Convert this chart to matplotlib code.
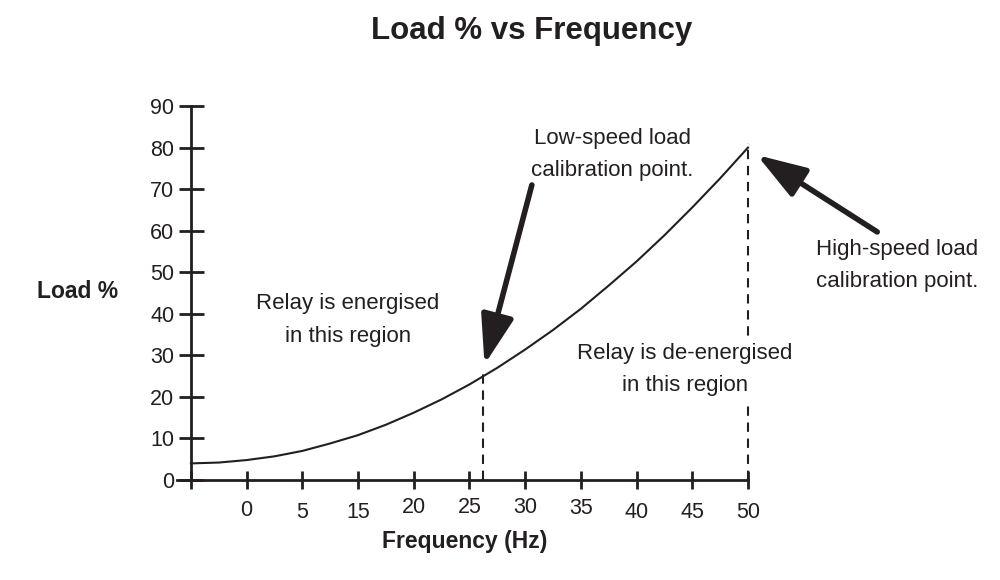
import matplotlib
matplotlib.use("Agg")
import matplotlib.pyplot as plt
from matplotlib.transforms import ScaledTranslation

plt.rcParams["font.family"] = ["Liberation Sans", "DejaVu Sans"]
INK = "#231f20"

# tick slots along the frequency axis and their printed labels
freq_slots = [0, 1, 2, 3, 4, 5, 6, 7, 8, 9, 10]
freq_labels = ["", "0", "5", "15", "20", "25", "30", "35", "40", "45", "50"]
load_ticks = [0, 10, 20, 30, 40, 50, 60, 70, 80, 90]

# load curve, sampled along the axis
curve_x = [0, 0.5, 1, 1.5, 2, 2.5, 3, 3.5, 4, 4.5, 5, 5.5, 6, 6.5, 7, 7.5, 8, 8.5, 9, 9.5, 10]
curve_load = [4.0, 4.2, 4.8, 5.7, 7.0, 8.8, 10.8, 13.3, 16.2, 19.4, 23.0, 27.0, 31.4,
              36.1, 41.2, 46.8, 52.6, 58.9, 65.6, 72.6, 80.0]

# calibration points: slot position and height of the dashed marker
low_cal_x, low_cal_top = 5.24, 27
high_cal_x, high_cal_top = 10.0, 81

fig = plt.figure(figsize=(10, 5.8), dpi=100)
ax = fig.add_axes([0.177, 0.1724, 0.571, 0.6448])

ax.plot(curve_x, curve_load, color=INK, lw=1.5, clip_on=False, zorder=3)
ax.plot([low_cal_x, low_cal_x], [0, low_cal_top], color=INK, lw=1.5,
        ls=(0, (4.5, 3.2)), clip_on=False)
ax.plot([high_cal_x, high_cal_x], [0, high_cal_top], color=INK, lw=1.5,
        ls=(0, (4.5, 3.2)), clip_on=False)

ax.set_xlim(-0.25, 10)
ax.set_ylim(0, 90)
ax.set_xticks(freq_slots)
ax.set_xticklabels(freq_labels)
ax.set_yticks(load_ticks)

for s in ["top", "right"]:
    ax.spines[s].set_visible(False)
ax.spines["left"].set_position(("data", 0))
for s in ["left", "bottom"]:
    ax.spines[s].set_linewidth(2)
    ax.spines[s].set_color(INK)
ax.tick_params(axis="both", direction="inout", width=2, color=INK,
               labelcolor=INK, labelsize=15.5)
ax.tick_params(axis="y", length=18, pad=3)
ax.tick_params(axis="x", length=13, pad=8)
ax.patch.set_visible(False)

# the hand-set frequency labels sit slightly uneven (points, + is up)
label_nudge = [0, 0, -1, -1, 2, 2, 2, 1.5, -1, -1, -1]
for lab, dy in zip(ax.get_xticklabels(), label_nudge):
    lab.set_transform(lab.get_transform() + ScaledTranslation(0, dy / 72, fig.dpi_scale_trans))

# arrows pointing at the calibration points
arrow = dict(arrowstyle="-|>,head_length=1.5,head_width=0.5", lw=4,
             color=INK, mutation_scale=20, shrinkA=0, shrinkB=0)
ax.annotate("", xy=(5.27, 27.8), xytext=(6.12, 71.0), arrowprops=arrow,
            annotation_clip=False)
ax.annotate("", xy=(10.16, 78.2), xytext=(12.32, 59.7), arrowprops=arrow,
            annotation_clip=False)

txt = dict(ha="center", va="center", fontsize=16, color=INK,
           linespacing=1.7, clip_on=False, zorder=5)
ax.text(7.56, 78.4, "Low-speed load\ncalibration point.", **txt)
ax.text(2.82, 38.5, "Relay is energised\nin this region", **txt)
ax.text(8.87, 26.5, "Relay is de-energised\nin this region",
        bbox=dict(facecolor="white", edgecolor="none", pad=4), **txt)
ax.text(12.68, 51.7, "High-speed load\ncalibration point.", **txt)

fig.text(0.532, 0.947, "Load % vs Frequency", ha="center", va="center",
         fontsize=22.5, fontweight="bold", color=INK)
fig.text(0.078, 0.497, "Load %", ha="center", va="center",
         fontsize=16.5, fontweight="bold", color=INK)
fig.text(0.465, 0.067, "Frequency (Hz)", ha="center", va="center",
         fontsize=16.5, fontweight="bold", color=INK)

fig.savefig("out.png", dpi=100)
